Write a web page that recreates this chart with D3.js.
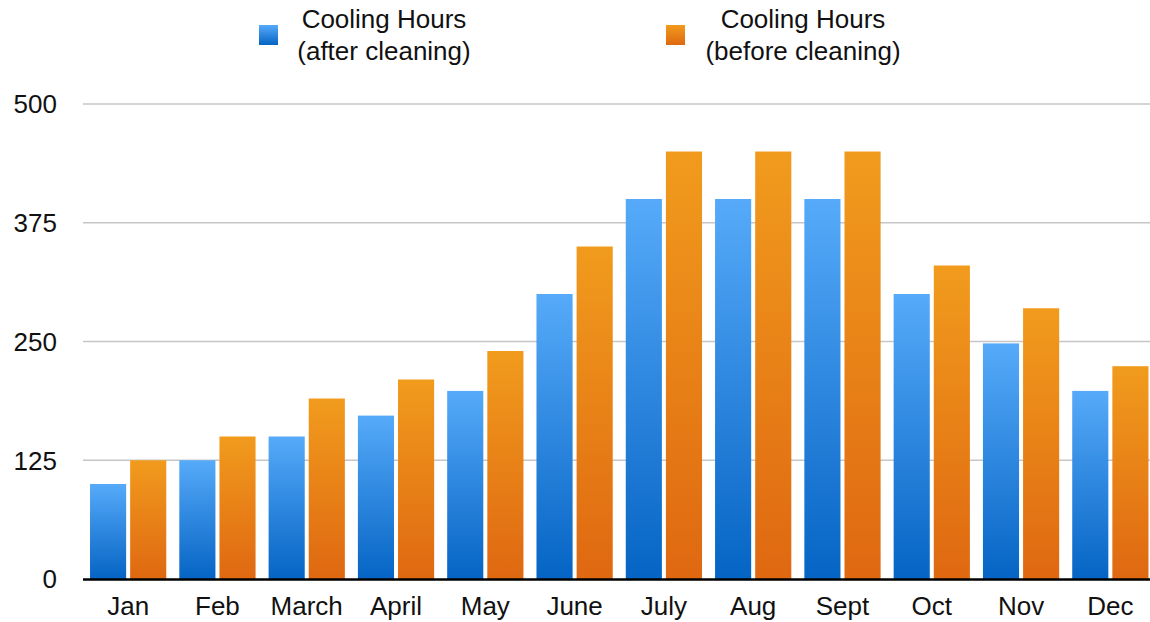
<html>
<head>
<style>
  body { margin: 0; background: #fff; }
  text { font-family: "Liberation Sans", Arial, Helvetica, sans-serif; fill: #111; }
</style>
</head>
<body>
<svg id="container" width="1150" height="622"></svg>
<script src="https://cdn.jsdelivr.net/npm/d3@7"></script>
<script>
// data
let months = ["Jan", "Feb", "March", "April", "May", "June", "July", "Aug", "Sept", "Oct", "Nov", "Dec"]
let afterCleaning = [100, 125, 150, 172, 198, 300, 400, 400, 400, 300, 248, 198]
let beforeCleaning = [125, 150, 190, 210, 240, 350, 450, 450, 450, 330, 285, 224]
let seriesNames = ["after", "before"]
let legendLines = [["Cooling Hours", "(after cleaning)"], ["Cooling Hours", "(before cleaning)"]]
let yTicks = [0, 125, 250, 375, 500]

let svg = d3.select("#container")

// gradients for the bars (light top, dark bottom)
let defs = svg.append("defs")
let grads = [
    { id: "gBlue", top: "#56aaf9", bottom: "#0564c4" },
    { id: "gOrange", top: "#f19b1d", bottom: "#df6811" }
]
grads.forEach(g => {
    let lg = defs.append("linearGradient").attr("id", g.id)
        .attr("x1", 0).attr("y1", 0).attr("x2", 0).attr("y2", 1)
    lg.append("stop").attr("offset", "0%").attr("stop-color", g.top)
    lg.append("stop").attr("offset", "100%").attr("stop-color", g.bottom)
})
let fills = { after: "url(#gBlue)", before: "url(#gOrange)" }

// scales
let x0 = d3.scaleBand()
    .domain(months)
    .range([83.5, 1155])
    .paddingInner(0.146)
    .paddingOuter(0.073)

let x1 = d3.scaleBand()
    .domain(seriesNames)
    .range([0, x0.bandwidth()])
    .paddingInner(0.1)

let y = d3.scaleLinear()
    .domain([0, 500])
    .range([579, 104])

// gridlines
svg.append("g").selectAll("line")
    .data(yTicks.filter(d => d > 0))
    .enter().append("line")
    .attr("x1", 83).attr("x2", 1150)
    .attr("y1", d => y(d)).attr("y2", d => y(d))
    .attr("stroke", "#c6c6c6")
    .attr("stroke-width", 1.5)

// y tick labels
svg.append("g").selectAll("text")
    .data(yTicks)
    .enter().append("text")
    .attr("x", 57)
    .attr("y", d => y(d))
    .attr("dy", "0.36em")
    .attr("text-anchor", "end")
    .attr("font-size", 26)
    .text(d => d)

// bars
let rows = months.map((m, i) => ({ month: m, after: afterCleaning[i], before: beforeCleaning[i] }))

let groups = svg.append("g").selectAll("g")
    .data(rows)
    .enter().append("g")
    .attr("transform", d => `translate(${x0(d.month)},0)`)

groups.selectAll("rect")
    .data(d => seriesNames.map(k => ({ key: k, value: d[k] })))
    .enter().append("rect")
    .attr("x", d => x1(d.key))
    .attr("width", x1.bandwidth())
    .attr("y", d => y(d.value))
    .attr("height", d => y(0) - y(d.value))
    .attr("fill", d => fills[d.key])

// baseline
svg.append("line")
    .attr("x1", 83).attr("x2", 1150)
    .attr("y1", y(0) + 0.5).attr("y2", y(0) + 0.5)
    .attr("stroke", "#000")
    .attr("stroke-width", 2.6)

// x labels
svg.append("g").selectAll("text")
    .data(months)
    .enter().append("text")
    .attr("x", d => x0(d) + x0.bandwidth() / 2)
    .attr("y", 615)
    .attr("text-anchor", "middle")
    .attr("font-size", 26)
    .text(d => d)

// legend
let legendX = [{ sq: 259, tx: 384 }, { sq: 666, tx: 803 }]
let legend = svg.append("g").selectAll("g")
    .data(seriesNames)
    .enter().append("g")

legend.append("rect")
    .attr("x", (d, i) => legendX[i].sq)
    .attr("y", 25)
    .attr("width", 19)
    .attr("height", 20)
    .attr("fill", d => fills[d])

legend.each(function (d, i) {
    let t = d3.select(this).append("text")
        .attr("text-anchor", "middle")
        .attr("font-size", 26)
    legendLines[i].forEach((line, j) => {
        t.append("tspan")
            .attr("x", legendX[i].tx)
            .attr("y", 28 + j * 32)
            .text(line)
    })
})
</script>
</body>
</html>
